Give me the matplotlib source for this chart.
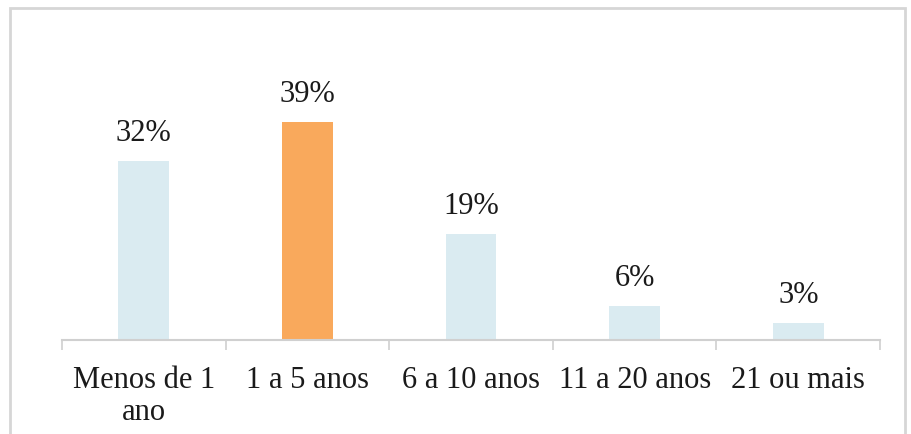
"""
Tempo de experiência - gráfico de barras.
"""

import matplotlib.pyplot as plt
import numpy as np
from matplotlib.patches import Rectangle

categorias = ["Menos de 1\nano", "1 a 5 anos", "6 a 10 anos", "11 a 20 anos", "21 ou mais"]
valores = [32, 39, 19, 6, 3]
rotulos = ["32%", "39%", "19%", "6%", "3%"]
destaque = 1  # barra laranja

plt.rcParams['font.family'] = ['Liberation Serif', 'DejaVu Serif']

fig = plt.figure(figsize=(9.12, 4.34), dpi=100)
ax = fig.add_axes([0.068, 0.2166, 0.897, 0.7144])

x = np.arange(len(categorias))
cores = ['#F9A95C' if i == destaque else '#DAEBF1' for i in range(len(categorias))]
ax.bar(x, valores, width=0.31, color=cores, zorder=2)

for xi, v, r in zip(x, valores, rotulos):
    ax.annotate(r, (xi, v), xytext=(0, 9.5), textcoords='offset points',
                ha='center', va='bottom', fontsize=22, color='#1a1a1a')

ax.set_xlim(-0.5, len(categorias) - 0.5)
ax.set_ylim(0, 55.5)

ax.set_xticks(x)
ax.set_xticklabels(categorias, fontsize=22, color='#1a1a1a', linespacing=1.1)
ax.set_xticks(np.arange(-0.5, len(categorias)), minor=True)
ax.tick_params(axis='x', which='major', length=0, pad=19)
ax.tick_params(axis='x', which='minor', length=7, color='#D0D0D0', width=1.2)
ax.set_yticks([])

for lado in ['top', 'right', 'left']:
    ax.spines[lado].set_visible(False)
ax.spines['bottom'].set_color('#D0D0D0')
ax.spines['bottom'].set_linewidth(1.5)

# moldura do gráfico
fig.patches.append(Rectangle((10 / 912, -0.05), 895 / 912, 1.05 - 8 / 434,
                             transform=fig.transFigure, fill=False,
                             edgecolor='#D6D6D6', linewidth=2))

fig.savefig("out.png", dpi=100)
